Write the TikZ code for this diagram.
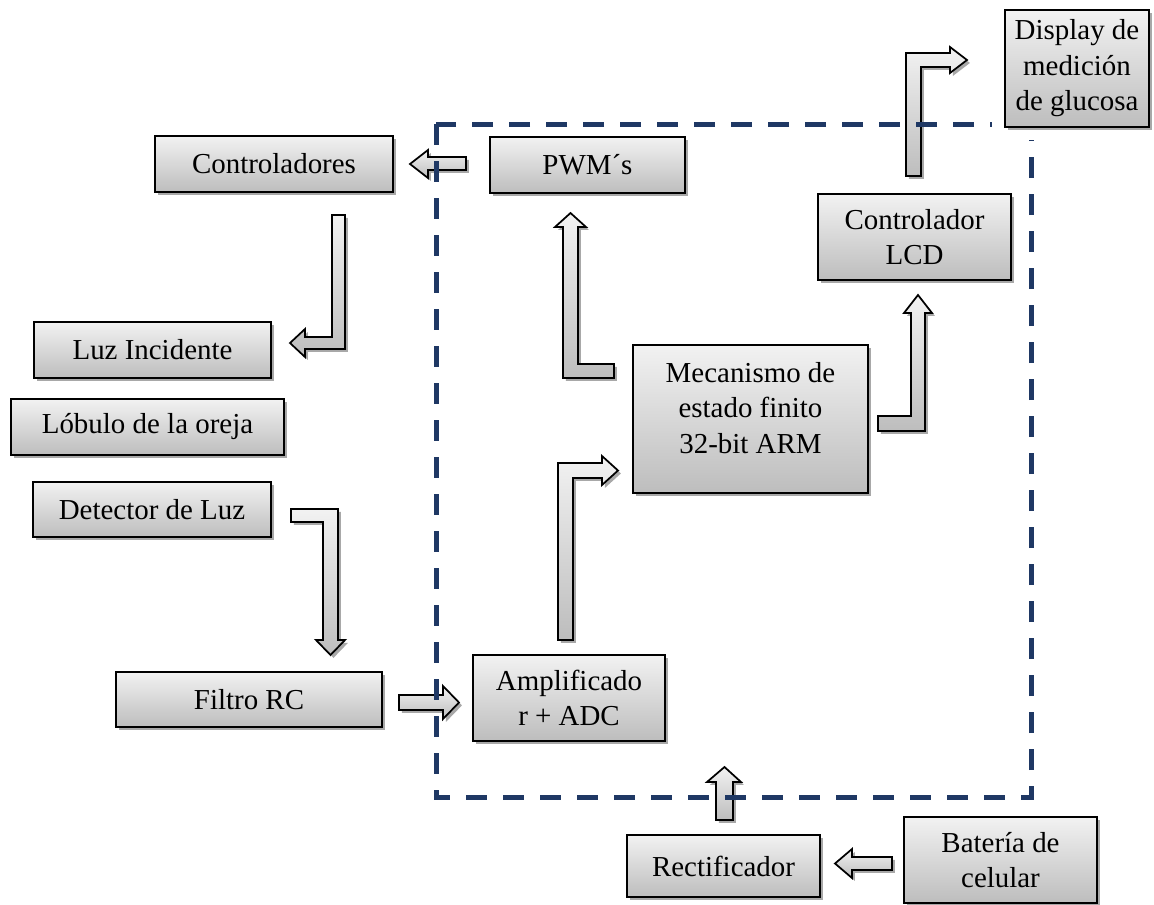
\documentclass[tikz,border=0pt]{standalone}
\usepackage{fontspec}
\setmainfont{Liberation Serif}
\usetikzlibrary{shadows}
\definecolor{framecol}{HTML}{1F3864}
\definecolor{gtop}{HTML}{F2F2F2}
\definecolor{gbot}{HTML}{BDBDBD}
\begin{document}
\begin{tikzpicture}[x=0.75pt,y=-0.75pt,
  shad/.style={drop shadow={shadow xshift=2.2pt,shadow yshift=-2.2pt,fill=black!40,opacity=0.85}},
  box/.style={draw=black,line width=1.3pt,top color=gtop,bottom color=gbot,shad,
    align=center,inner sep=0pt,font=\fontsize{21.7}{26.6}\selectfont},
  barrow/.style={draw=black,line width=1.3pt,line join=miter,top color=gtop,bottom color=gbot,shad},
  dashframe/.style={draw=framecol,line width=3.75pt,dash pattern=on 15.75pt off 12pt}
]
\useasboundingbox (0,0) rectangle (1154,904);

% boxes
\node[box,minimum width=178.5pt,minimum height=42pt] (ctrl) at (274,164) {Controladores};
\node[box,minimum width=146.25pt,minimum height=42pt] (pwm) at (587.5,165) {PWM´s};
\node[box,minimum width=144.75pt,minimum height=64.5pt] (lcd) at (914.5,237) {Controlador\\LCD};
\node[box,minimum width=177.75pt,minimum height=42pt] (luz) at (152.5,350) {Luz Incidente};
\node[box,minimum width=204.75pt,minimum height=42pt] (lob) at (147.5,427) {Lóbulo de la oreja};
\node[box,minimum width=178.5pt,minimum height=41.25pt] (det) at (152,509.5) {Detector de Luz};
\node[box,minimum width=199.5pt,minimum height=41.25pt] (fil) at (249,699.5) {Filtro RC};
\node[box,minimum width=144pt,minimum height=64.5pt] (amp) at (569,698) {Amplificado\\r + ADC};
\node[box,minimum width=176.25pt,minimum height=111pt] (mec) at (750.5,419) {};
\node[align=center,inner sep=0pt,font=\fontsize{21.7}{26.6}\selectfont] (mectxt) at (750.5,408) {Mecanismo de\\estado finito\\32-bit ARM};
\node[box,minimum width=144.75pt,minimum height=46.5pt] (rect) at (723.5,866) {Rectificador};
\node[box,minimum width=144.75pt,minimum height=64.5pt] (bat) at (1000.5,860) {Batería de\\celular};

% block arrows
% PWM -> Controladores
\path[barrow] (466,157) -- (428,157) -- (428,150) -- (410,164) -- (428,178) -- (428,170) -- (466,170) -- cycle;
% Controladores -> Luz Incidente
\path[barrow] (332,215) -- (345,215) -- (345,349) -- (305,349) -- (305,357) -- (290,343) -- (305,329) -- (305,337) -- (332,337) -- cycle;
% Mecanismo -> PWM
\path[barrow] (614,378) -- (563,378) -- (563,227) -- (555,227) -- (570.5,213) -- (586,227) -- (578,227) -- (578,364) -- (614,364) -- cycle;
% Amplificador -> Mecanismo
\path[barrow] (558,640) -- (558,463) -- (602,463) -- (602,456) -- (618,470.5) -- (602,485) -- (602,478) -- (573,478) -- (573,640) -- cycle;
% Mecanismo -> LCD
\path[barrow] (878,431) -- (925,431) -- (925,313) -- (932,313) -- (918,295) -- (904,313) -- (911,313) -- (911,416) -- (878,416) -- cycle;
% LCD -> Display
\path[barrow] (906,176) -- (906,53) -- (950,53) -- (950,47) -- (967,60) -- (950,73) -- (950,67) -- (921,67) -- (921,176) -- cycle;
% Detector -> Filtro
\path[barrow] (291,509) -- (338,509) -- (338,640) -- (345,640) -- (330.5,655) -- (316,640) -- (323,640) -- (323,522) -- (291,522) -- cycle;
% Filtro -> Amplificador
\path[barrow] (399,695) -- (443,695) -- (443,686) -- (459,702.5) -- (443,719) -- (443,710) -- (399,710) -- cycle;
% Rectificador -> up
\path[barrow] (716,820) -- (716,782) -- (707,782) -- (724.5,767) -- (741,782) -- (733,782) -- (733,820) -- cycle;
% Bateria -> Rectificador
\path[barrow] (892,857) -- (852,857) -- (852,849) -- (835,863.5) -- (852,878) -- (852,870) -- (892,870) -- cycle;

% dashed frame
\draw[dashframe] (436,124) rectangle (1031,797);

% display box lies over the frame corner
\fill[white] (992,112) rectangle (1154,140);
\node[box,minimum width=108pt,minimum height=87.75pt] (disp) at (1077,68.5) {Display de\\medición\\de glucosa};
\end{tikzpicture}
\end{document}
